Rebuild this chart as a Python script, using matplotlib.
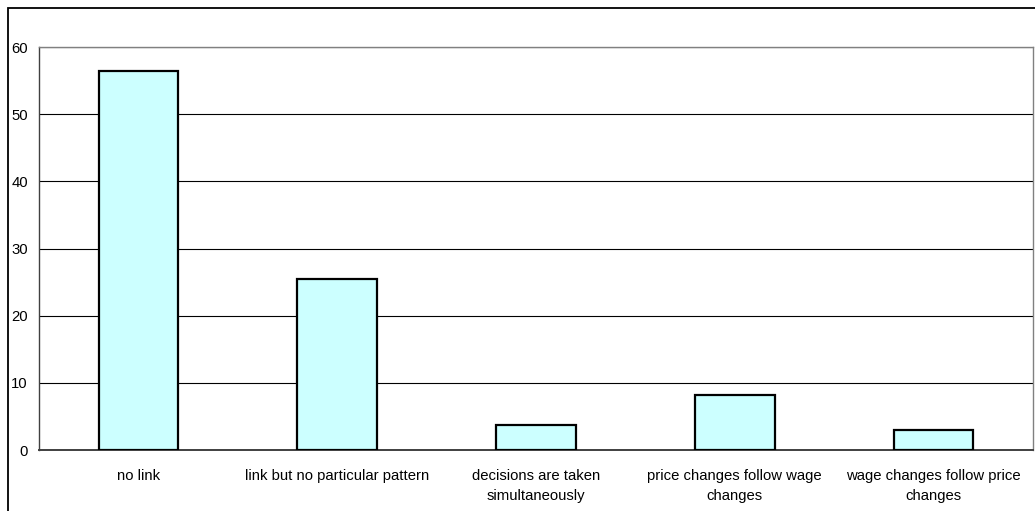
import numpy as np
from matplotlib import pyplot as plt
from matplotlib.patches import Rectangle

categories = ['no link', 'link but no particular pattern', 'decisions are taken\nsimultaneously',
              'price changes follow wage\nchanges', 'wage changes follow price\nchanges']
values = [56.5, 25.5, 3.7, 8.2, 3.0]
y_ticks = [0, 10, 20, 30, 40, 50, 60]

plt.rcParams['font.family'] = ['Liberation Sans', 'DejaVu Sans']

W, H = 1035, 511
fig = plt.figure(figsize=(W / 100, H / 100), dpi=100)
fig.patch.set_facecolor('white')

# outer chart border (only top/left visible in the crop)
fig.patches.append(Rectangle((8 / W, -0.1), 1.2, 1 - 8 / H + 0.1, transform=fig.transFigure,
                             fill=False, edgecolor='black', linewidth=1.3))

ax = fig.add_axes([39 / W, 1 - 450 / H, (1033 - 39) / W, (450 - 47) / H])
x = np.arange(len(categories))
ax.bar(x, values, width=0.4, color='#CCFFFF', edgecolor='black', linewidth=1.6, zorder=3)
ax.set_xlim(-0.5, len(categories) - 0.5)
ax.set_ylim(0, 60)
ax.set_yticks(y_ticks)
ax.set_xticks(x)
ax.set_xticklabels(categories, fontsize=10.7, linespacing=1.55)
ax.tick_params(axis='y', labelsize=10.7, length=0, pad=8)
ax.tick_params(axis='x', length=0, pad=14)
ax.yaxis.grid(True, color='black', linewidth=0.8, zorder=0)
for s in ax.spines.values():
    s.set_color('#808080')
    s.set_linewidth(1.0)
ax.spines['left'].set_color('#404040')
ax.spines['bottom'].set_color('#404040')
ax.spines['bottom'].set_linewidth(1.4)

fig.savefig('out.png', dpi=100)
